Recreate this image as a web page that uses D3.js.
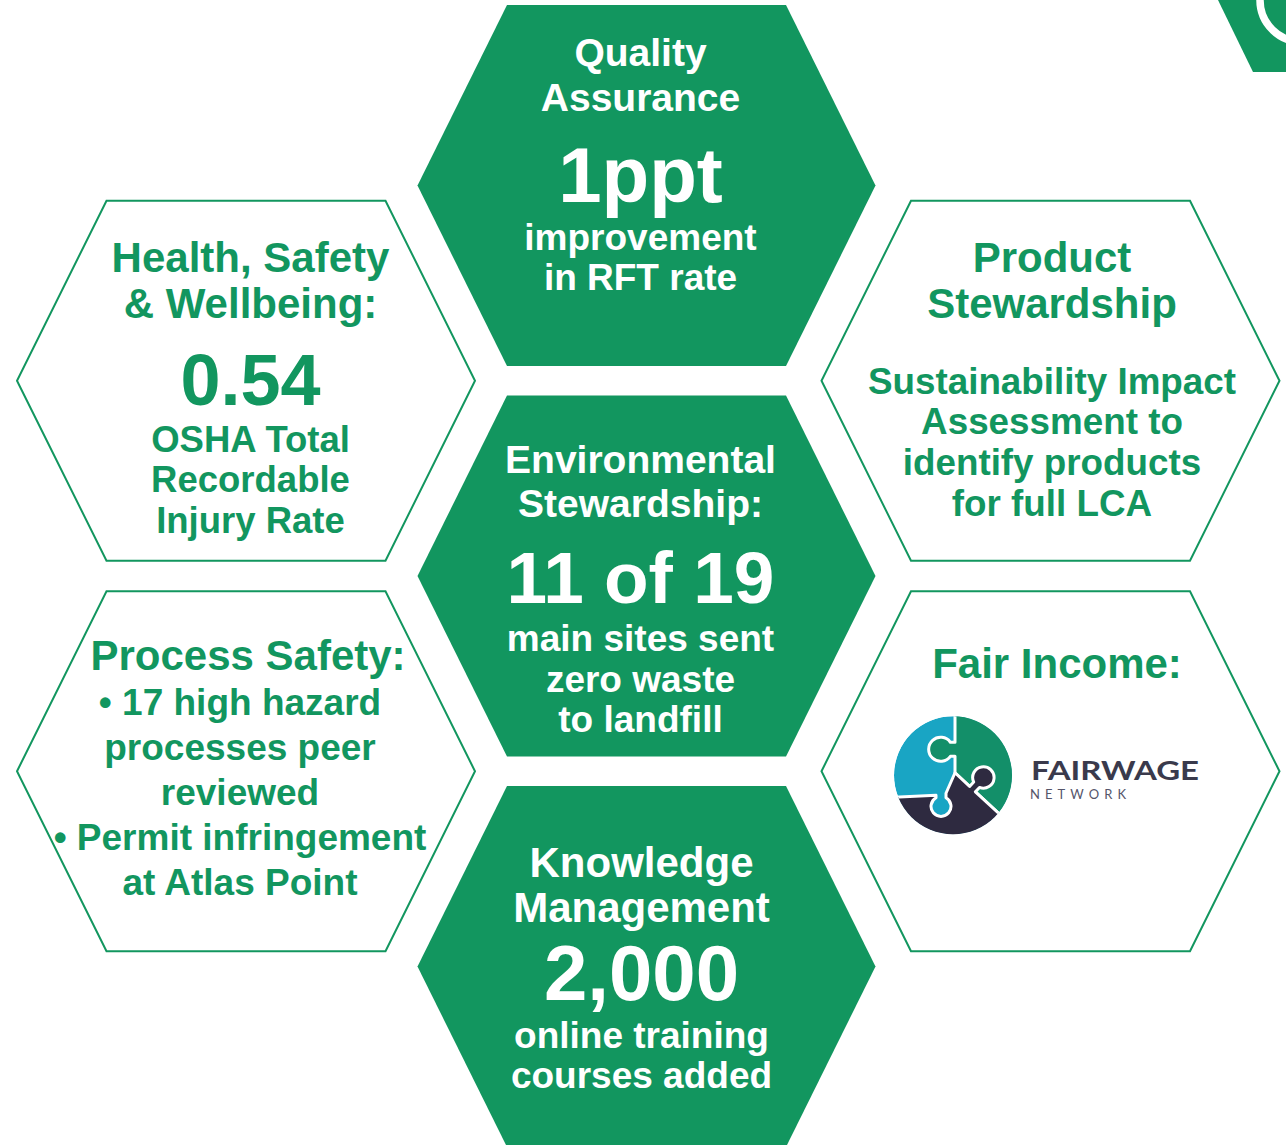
<!DOCTYPE html>
<html>
<head>
<meta charset="utf-8">
<script src="https://cdn.jsdelivr.net/npm/d3@7"></script>
<style>
  html, body { margin: 0; padding: 0; background: #ffffff; }
  svg { display: block; }
</style>
</head>
<body>
<svg id="chart" width="1286" height="1145"></svg>
<script>
// ---------------- data ----------------
const hexIds       = ["qa", "hsw", "ps", "env", "prod", "fair", "km"];
const hexColumns   = ["center", "left", "left", "center", "right", "right", "center"];
const hexRows      = [0, 0.5, 1.5, 1, 0.5, 1.5, 2];
const hexFilled    = [true, false, false, true, false, false, true];
const titleLines   = [
  ["Quality", "Assurance"],
  ["Health, Safety", "& Wellbeing:"],
  ["Process Safety:"],
  ["Environmental", "Stewardship:"],
  ["Product", "Stewardship"],
  ["Fair Income:"],
  ["Knowledge", "Management"]
];
const headlineValues = ["1ppt", "0.54", "", "11 of 19", "", "", "2,000"];
const detailLines  = [
  ["improvement", "in RFT rate"],
  ["OSHA Total", "Recordable", "Injury Rate"],
  ["\u2022 17 high hazard", "processes peer", "reviewed", "\u2022 Permit infringement", "at Atlas Point"],
  ["main sites sent", "zero waste", "to landfill"],
  ["Sustainability Impact", "Assessment to", "identify products", "for full LCA"],
  [],
  ["online training", "courses added"]
];
const logoWords = ["FAIRWAGE", "NETWORK"];

// ---------------- styles / layout ----------------
const GREEN = "#12965f";
const FONT = "'Liberation Sans', Arial, Helvetica, sans-serif";
const layout = {
  qa:   {dx: -6,  tSize: 39, tY: -119.5, tGap: 45, vSize: 78, vY: 16.5, dSize: 37,   dY: 64.5, dGap: 40,   ddx: 0},
  hsw:  {dx: 4.5, tSize: 42, tY: -109,   tGap: 46, vSize: 72, vY: 24,   dSize: 36.5, dY: 71,   dGap: 40.5, ddx: 0},
  ps:   {dx: 2,   tSize: 42, tY: -101,   tGap: 45, vSize: 0,  vY: 0,    dSize: 37,   dY: -56,  dGap: 45,   ddx: -8},
  env:  {dx: -6,  tSize: 39, tY: -103,   tGap: 44, vSize: 73, vY: 27,   dSize: 37,   dY: 75,   dGap: 40.5, ddx: 0},
  prod: {dx: 1.5, tSize: 42, tY: -109,   tGap: 46, vSize: 0,  vY: 0,    dSize: 36.8, dY: 13,   dGap: 40.7, ddx: 0},
  fair: {dx: 6.5, tSize: 42, tY: -93,    tGap: 46, vSize: 0,  vY: 0,    dSize: 36,   dY: 0,    dGap: 40,   ddx: 0},
  km:   {dx: -5,  tSize: 42, tY: -90,    tGap: 45, vSize: 78, vY: 33,   dSize: 37,   dY: 81,   dGap: 40,   ddx: 0}
};

const x = d3.scaleOrdinal().domain(["left", "center", "right"]).range([246, 646.5, 1050.5]);
const y = d3.scaleLinear().domain([0, 2]).range([185.5, 966.5]);

const svg = d3.select("#chart");

// hexagon generator
const HW = 229, HT = 139.5, HH = 180.5;
function hexPath(cx, cy, hh) {
  const p = d3.path();
  p.moveTo(cx - HT, cy - hh);
  p.lineTo(cx + HT, cy - hh);
  p.lineTo(cx + HW, cy);
  p.lineTo(cx + HT, cy + hh);
  p.lineTo(cx - HT, cy + hh);
  p.lineTo(cx - HW, cy);
  p.closePath();
  return p.toString();
}

const hexData = hexIds.map((id, i) => ({
  id, col: hexColumns[i], row: hexRows[i], filled: hexFilled[i],
  title: titleLines[i], value: headlineValues[i], details: detailLines[i]
}));

// top-right corner decoration
const deco = svg.append("g");
deco.append("path")
  .attr("d", "M1218,0 L1286,0 L1286,72 L1253,72 Z")
  .attr("fill", GREEN);
deco.append("circle")
  .attr("cx", 1302).attr("cy", 0).attr("r", 42)
  .attr("fill", "none").attr("stroke", "#ffffff").attr("stroke-width", 7.5);

// hexagons
const g = svg.selectAll("g.hex").data(hexData).join("g").attr("class", "hex");
g.append("path")
  .attr("d", d => hexPath(x(d.col), y(d.row), d.filled ? HH : 180))
  .attr("fill", d => d.filled ? GREEN : "#ffffff")
  .attr("stroke", d => d.filled ? "none" : GREEN)
  .attr("stroke-width", 2);

// text
g.each(function(d) {
  const L = layout[d.id];
  const cx = x(d.col), cy = y(d.row);
  const color = d.filled ? "#ffffff" : GREEN;
  const sel = d3.select(this);
  d.title.forEach((t, k) => {
    sel.append("text")
      .attr("x", cx + L.dx).attr("y", cy + L.tY + k * L.tGap)
      .attr("text-anchor", "middle")
      .attr("font-family", FONT).attr("font-weight", "bold")
      .attr("font-size", L.tSize).attr("fill", color)
      .text(t);
  });
  if (d.value) {
    sel.append("text")
      .attr("x", cx + L.dx).attr("y", cy + L.vY)
      .attr("text-anchor", "middle")
      .attr("font-family", FONT).attr("font-weight", "bold")
      .attr("font-size", L.vSize).attr("fill", color)
      .text(d.value);
  }
  d.details.forEach((t, k) => {
    sel.append("text")
      .attr("x", cx + L.dx + L.ddx).attr("y", cy + L.dY + k * L.dGap)
      .attr("text-anchor", "middle")
      .attr("font-family", FONT).attr("font-weight", "bold")
      .attr("font-size", L.dSize).attr("fill", color)
      .text(t);
  });
});

// Fairwage logo (inside the Fair Income hexagon)
const fairIdx = hexIds.indexOf("fair");
const fx = x(hexColumns[fairIdx]), fy = y(hexRows[fairIdx]);
const logo = svg.append("g").attr("transform", `translate(${fx - 97.5},${fy + 4})`);
const defs = svg.append("defs");
defs.append("clipPath").attr("id", "logoClip")
  .append("circle").attr("cx", 0).attr("cy", 0).attr("r", 59);
const lg = logo.append("g").attr("clip-path", "url(#logoClip)");
lg.append("circle").attr("r", 59).attr("fill", "#19a5c4");
// green piece (with tab reaching into the teal piece)
lg.append("path")
  .attr("d", "M2,-2.5 L2,-19 L-2.6,-19 A12,12 0 1 1 -2.6,-33 L2,-33 L2,-63 A63,63 0 0 1 48.3,40.5 Z")
  .attr("fill", "#138f69").attr("stroke", "#ffffff").attr("stroke-width", 3).attr("stroke-linejoin", "round");
// dark piece (tab up into green, slot for teal tab)
lg.append("path")
  .attr("d", "M2,-2.5 L16.6,11.2 L20.7,6.8 A10.7,10.7 0 1 1 26.5,12.2 L22.4,16.6 L48.3,40.5 A63,63 0 0 1 -60,22 L-17,20 L-17,22.5 A10,10 0 1 0 -7,22.5 L-7,18 Z")
  .attr("fill", "#2e2a40").attr("stroke", "#ffffff").attr("stroke-width", 3).attr("stroke-linejoin", "round");

logo.append("text")
  .attr("x", 78).attr("y", 5)
  .attr("font-family", "Lato, 'Open Sans', sans-serif").attr("font-weight", 700)
  .attr("font-size", 27).attr("fill", "#3a3a4c")
  .attr("textLength", 168).attr("lengthAdjust", "spacingAndGlyphs")
  .text(logoWords[0]);
logo.append("text")
  .attr("x", 77).attr("y", 24)
  .attr("font-family", "Lato, 'Open Sans', sans-serif").attr("font-weight", 400)
  .attr("font-size", 13).attr("fill", "#55556a")
  .attr("textLength", 96).attr("lengthAdjust", "spacing")
  .text(logoWords[1]);
</script>
</body>
</html>
